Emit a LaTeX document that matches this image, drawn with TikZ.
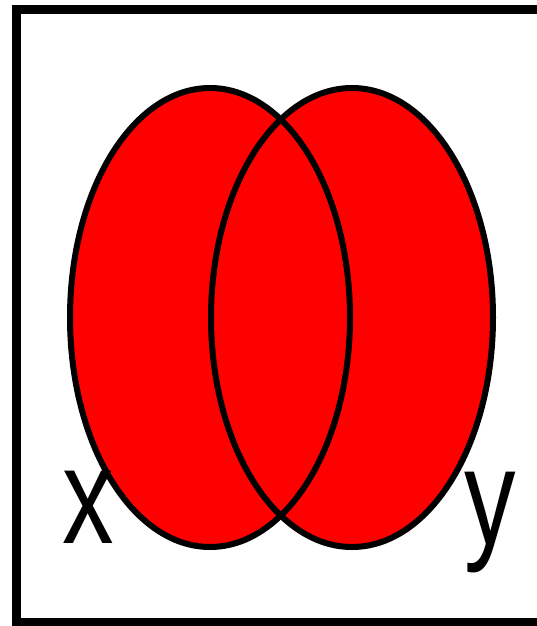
\documentclass[tikz,border=0pt]{standalone}
\usepackage{fontspec}
\setmainfont{Liberation Sans}
\usepackage{graphicx}
\definecolor{vennred}{RGB}{255,0,0}
\tikzset{
  vennfill/.style={fill=vennred, draw=none},
  vennline/.style={draw=black, line width=6pt},
  frameline/.style={draw=black, line width=9pt},
  setlabel/.style={inner sep=0pt, anchor=base west, font=\fontsize{103}{103}\selectfont}
}
\begin{document}
\begin{tikzpicture}[x=1pt, y=-1pt]
\useasboundingbox (0,0) rectangle (537,626);
\clip (0,0) rectangle (537,626);
\fill[white] (0,0) rectangle (537,626);
% frame (right edge lies outside the picture)
\draw[frameline] (16,9.5) rectangle (560,622);
% filled ellipses
\path[vennfill] (210,317.5) ellipse [x radius=140pt, y radius=229.5pt];
\path[vennfill] (352,317.5) ellipse [x radius=141pt, y radius=229.5pt];
% outlines
\draw[vennline] (210,317.5) ellipse [x radius=140pt, y radius=229.5pt];
\draw[vennline] (352,317.5) ellipse [x radius=141pt, y radius=229.5pt];
% labels
\node[setlabel] (lx) at (62,543) {\scalebox{1}[1.33]{x}};
\node[setlabel] (ly) at (464,544) {\scalebox{1}[1.33]{y}};
\end{tikzpicture}
\end{document}
